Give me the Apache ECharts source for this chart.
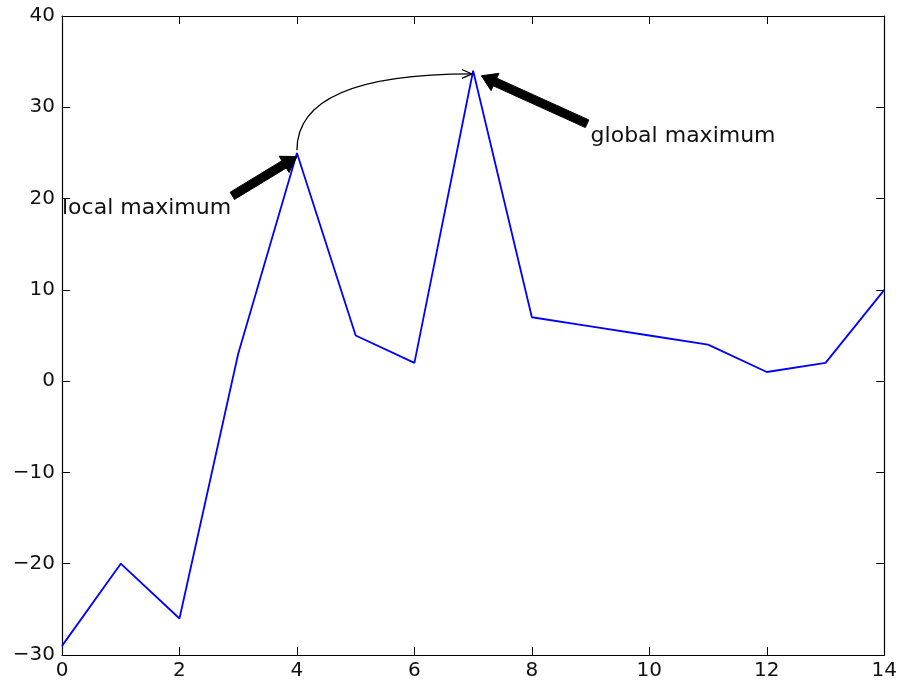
<!DOCTYPE html>
<html>
<head>
<meta charset="utf-8">
<script src="https://cdn.jsdelivr.net/npm/echarts@6/dist/echarts.min.js"></script>
<style>
  html, body { margin: 0; padding: 0; background: #fff; }
  #main { width: 900px; height: 684px; }
</style>
</head>
<body>
<div id="main"></div>
<script>
// data
var xValues = [0, 1, 2, 3, 4, 5, 6, 7, 8, 9, 10, 11, 12, 13, 14];
var yValues = [-29, -20, -26, 3, 25, 5, 2, 34, 7, 6, 5, 4, 1, 2, 10];
var xTicks = [0, 2, 4, 6, 8, 10, 12, 14];
var yTicks = [-30, -20, -10, 0, 10, 20, 30, 40];

// annotations (data coordinates)
var localMax = { label: 'local maximum', text: [0, 18.95], from: [2.9, 20.3], to: [4.0, 24.6] };
var globalMax = { label: 'global maximum', text: [9.0, 26.85], from: [8.94, 28.2], to: [7.14, 33.45] };
var curveFrom = [4.0, 25.3];
var curveTo = [6.98, 33.65];

var FONT = 'DejaVu Sans';

var chartDom = document.getElementById('main');
var myChart = echarts.init(chartDom);

function fmt(v) {
    return v < 0 ? '\u2212' + Math.abs(v) : String(v);
}

var axisLine = { show: true, onZero: false, lineStyle: { color: '#000', width: 1.2 } };
var axisTick = { show: true, inside: true, length: 8, lineStyle: { color: '#000', width: 1 } };

var option = {
    animation: false,
    backgroundColor: '#fff',
    grid: { left: 62, top: 16, right: 13, bottom: 29, containLabel: false },
    xAxis: [
        {
            type: 'value', min: xTicks[0], max: xTicks[xTicks.length - 1], interval: 2,
            position: 'bottom', axisLine: axisLine, axisTick: axisTick, splitLine: { show: false },
            axisLabel: { fontFamily: FONT, fontSize: 20, color: '#111', margin: 6, formatter: fmt }
        },
        {
            type: 'value', min: xTicks[0], max: xTicks[xTicks.length - 1], interval: 2,
            position: 'top', axisLine: axisLine, axisTick: axisTick, splitLine: { show: false },
            axisLabel: { show: false }
        }
    ],
    yAxis: [
        {
            type: 'value', min: yTicks[0], max: yTicks[yTicks.length - 1], interval: 10,
            position: 'left', axisLine: axisLine, axisTick: axisTick, splitLine: { show: false },
            axisLabel: { fontFamily: FONT, fontSize: 20, color: '#111', margin: 7, formatter: fmt }
        },
        {
            type: 'value', min: yTicks[0], max: yTicks[yTicks.length - 1], interval: 10,
            position: 'right', axisLine: axisLine, axisTick: axisTick, splitLine: { show: false },
            axisLabel: { show: false }
        }
    ],
    series: [
        {
            type: 'line',
            data: xValues.map(function (x, i) { return [x, yValues[i]]; }),
            showSymbol: false,
            lineStyle: { color: '#0000ff', width: 1.8 },
            z: 3
        }
    ]
};

myChart.setOption(option);

function px(p) {
    return myChart.convertToPixel({ gridIndex: 0 }, p);
}

function fatArrow(from, to) {
    var s = px(from), e = px(to);
    var dx = e[0] - s[0], dy = e[1] - s[1];
    var len = Math.sqrt(dx * dx + dy * dy);
    var ux = dx / len, uy = dy / len;
    var nx = -uy, ny = ux;
    var w = 4.2, hw = 9.5, hl = 15;
    var bx = e[0] - ux * hl, by = e[1] - uy * hl;
    return {
        type: 'polygon',
        shape: {
            points: [
                [s[0] + nx * w, s[1] + ny * w],
                [bx + nx * w, by + ny * w],
                [bx + nx * hw, by + ny * hw],
                e,
                [bx - nx * hw, by - ny * hw],
                [bx - nx * w, by - ny * w],
                [s[0] - nx * w, s[1] - ny * w]
            ]
        },
        style: { fill: '#000', stroke: '#000', lineWidth: 1 },
        z: 10
    };
}

function label(a) {
    var p = px(a.text);
    return {
        type: 'text',
        x: p[0], y: p[1],
        style: {
            text: a.label, font: '22px "' + FONT + '"', fill: '#111',
            textAlign: 'left', textVerticalAlign: 'middle'
        },
        z: 10
    };
}

var c0 = px(curveFrom), c1 = px(curveTo);
var cp = [c0[0], c1[1]];
var headLen = 11, headAng = 0.42;
var dirx = c1[0] - cp[0], diry = c1[1] - cp[1];
var ang = Math.atan2(diry, dirx);

option.graphic = [
    label(localMax),
    label(globalMax),
    fatArrow(localMax.from, localMax.to),
    fatArrow(globalMax.from, globalMax.to),
    {
        type: 'bezierCurve',
        shape: { x1: c0[0], y1: c0[1], x2: c1[0], y2: c1[1], cpx1: cp[0], cpy1: cp[1] },
        style: { stroke: '#000', lineWidth: 1.3, fill: null },
        z: 10
    },
    {
        type: 'polyline',
        shape: {
            points: [
                [c1[0] - headLen * Math.cos(ang - headAng), c1[1] - headLen * Math.sin(ang - headAng)],
                c1,
                [c1[0] - headLen * Math.cos(ang + headAng), c1[1] - headLen * Math.sin(ang + headAng)]
            ]
        },
        style: { stroke: '#000', lineWidth: 1.3, fill: null },
        z: 10
    }
];

myChart.setOption({ graphic: option.graphic });
</script>
</body>
</html>
